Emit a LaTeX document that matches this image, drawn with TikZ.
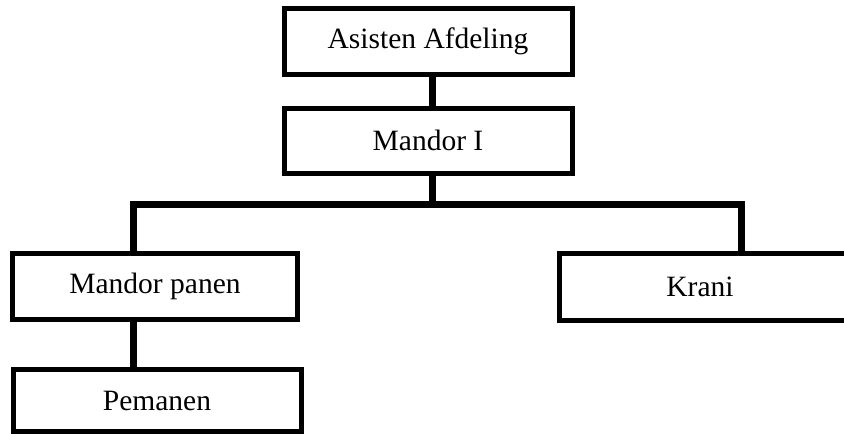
\documentclass[tikz,border=0pt]{standalone}
\usepackage{fontspec}
\setmainfont{Liberation Serif}
\begin{document}
\begin{tikzpicture}[x=1pt,y=-1pt,
  boxnode/.style={draw=black,line width=5pt,rectangle,fill=white,inner sep=0pt,
    font=\fontsize{29.5}{34}\selectfont,anchor=center},
  conn/.style={draw=black,line width=7pt,line join=miter}]
\useasboundingbox (0,0) rectangle (844,434);
\coordinate (cx) at (432,0);
\coordinate (lx) at (133,0);
\coordinate (rx) at (741,0);
\coordinate (bus) at (0,204);
\node[boxnode,minimum width=288pt,minimum height=66pt] (asisten) at (428,41) {Asisten Afdeling};
\node[boxnode,minimum width=288pt,minimum height=65pt] (mandor) at (428,140.5) {Mandor I};
\node[boxnode,minimum width=285pt,minimum height=66pt] (panen) at (155,286.5) {Mandor panen};
\node[boxnode,minimum width=296pt,minimum height=67pt] (krani) at (707,287) {Krani\hspace*{14pt}};
\node[boxnode,minimum width=288pt,minimum height=62pt] (pemanen) at (157,400.5) {Pemanen};
\draw[conn] (asisten.south -| cx) -- (mandor.north -| cx);
\draw[conn] (mandor.south -| cx) -- (cx |- bus);
\draw[conn] (lx |- panen.north) -- (lx |- bus) -- (rx |- bus) -- (rx |- krani.north);
\draw[conn] (panen.south -| lx) -- (pemanen.north -| lx);
\end{tikzpicture}
\end{document}
